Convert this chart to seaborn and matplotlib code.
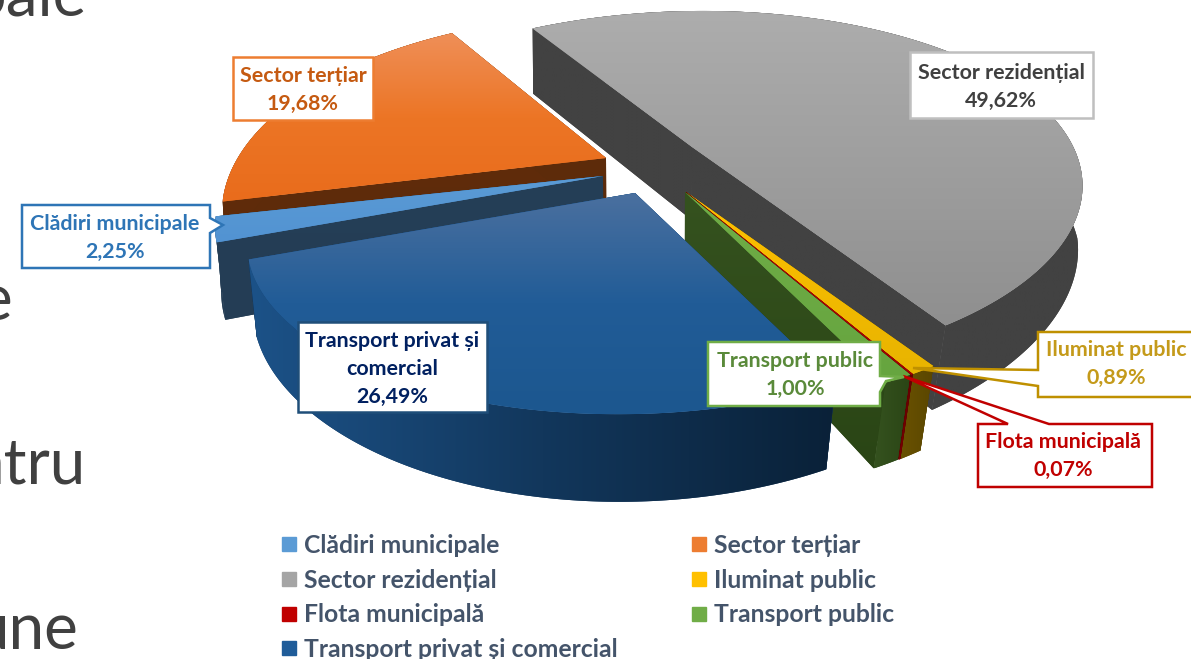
import matplotlib.pyplot as plt
import numpy as np
import seaborn as sns
from matplotlib.lines import Line2D
from matplotlib.patches import Polygon

categories = [
    "Clădiri municipale",
    "Sector terțiar",
    "Sector rezidențial",
    "Iluminat public",
    "Flota municipală",
    "Transport public",
    "Transport privat și comercial",
]
shares = [2.25, 19.68, 49.62, 0.89, 0.07, 1.00, 26.49]
base_colors = ["#5b9bd5", "#ed7d31", "#a5a5a5", "#ffc000", "#c00000", "#70ad47", "#1f5c99"]

# look of each slice: top gradient, wall gradient, apex on the page, size
top_colors = [
    ["#5b9bd5", "#5293d2"],
    ["#ef8f58", "#ec7525", "#e96c1c"],
    ["#adadad", "#8f8f8f"],
    ["#ffc000", "#e8b400"],
    ["#c00000", "#a00000"],
    ["#70ad47", "#66a53f"],
    ["#4b709f", "#215c97", "#1c578f"],
]
wall_colors = [
    ["#253f57", "#243d55"],
    ["#602c0a", "#5c2b0b"],
    ["#424242", "#424242"],
    ["#6a5200", "#5a4600"],
    ["#7a0000", "#600000"],
    ["#35521f", "#2a4515"],
    ["#1c5288", "#12375c", "#0a2138"],
]
apexes = [(603, 176), (606, 158), (692, 147), (686, 192), (686, 192), (685, 192), (635, 193)]
sizes = [1.0, 0.99, 1.025, 1.0, 1.0, 1.0, 1.0]
y_stretch = [1.0, 1.09, 1.0, 1.0, 1.0, 1.0, 1.0]

# drawn back to front
draw_order = [2, 1, 0, 3, 4, 5, 6]

START_ANGLE = -201.35
RADIUS = 372
SQUASH = 0.446
PERSPECTIVE = 0.25
SKEW = -0.035
DEPTH = 73


def project(theta, apex, size, stretch):
    u, v = np.cos(np.radians(theta)), np.sin(np.radians(theta))
    k = 1 / (1 - PERSPECTIVE * v)
    x = apex[0] + size * RADIUS * (u + SKEW * v) * k
    y = apex[1] + size * stretch * RADIUS * SQUASH * v * k
    return np.column_stack([x, y]), k, v


def drop(points, k, v):
    out = points.copy()
    out[:, 0] -= 0.055 * (out[:, 0] - 650) * np.maximum(v, 0.1)
    out[:, 1] += DEPTH * (1 + (k - 1) * 0.6)
    return out


def gradient_patch(ax, verts, colors, zorder, horizontal=False):
    verts = np.asarray(verts)
    patch = Polygon(verts, closed=True, fc=colors[len(colors) // 2], ec="none", zorder=zorder)
    ax.add_patch(patch)
    ramp = np.linspace(0, 1, 256)
    ramp = ramp.reshape(1, -1) if horizontal else ramp.reshape(-1, 1)
    image = ax.imshow(
        ramp,
        extent=(verts[:, 0].min(), verts[:, 0].max(), verts[:, 1].max(), verts[:, 1].min()),
        cmap=sns.blend_palette(colors, as_cmap=True),
        aspect="auto",
        origin="upper",
        interpolation="bilinear",
        zorder=zorder,
    )
    image.set_clip_path(patch)


def draw_slice(ax, index, theta1, theta2, zorder):
    apex, size, stretch = apexes[index], sizes[index], y_stretch[index]
    thetas = np.linspace(theta1, theta2, 160)
    arc, k, v = project(thetas, apex, size, stretch)
    arc_low = drop(arc, k, v)
    apex_pt = np.array([apex], dtype=float)
    apex_low = drop(apex_pt, np.array([1.0]), np.array([0.0]))

    walls = wall_colors[index]
    for end in (0, -1):
        wall = np.vstack([apex_pt, arc[[end]], arc_low[[end]], apex_low])
        gradient_patch(ax, wall, walls, zorder)
    outer = np.vstack([arc, arc_low[::-1]])
    gradient_patch(ax, outer, walls, zorder + 0.1, horizontal=True)
    gradient_patch(ax, np.vstack([apex_pt, arc]), top_colors[index], zorder + 0.2)


def callout(ax, outline, edge, text, color, center, fontsize=15.4):
    ax.add_patch(Polygon(outline, closed=True, fc="white", ec=edge, lw=1.8, zorder=30, joinstyle="miter"))
    ax.text(center[0], center[1], text, color=color, fontsize=fontsize, fontweight="bold",
            ha="center", va="center", linespacing=1.5, zorder=31)


sns.set_theme(style="white")
plt.rcParams["font.family"] = ["Lato", "DejaVu Sans"]

fig = plt.figure(figsize=(11.91, 6.59), dpi=100)
ax = fig.add_axes([0, 0, 1, 1])

angles = START_ANGLE + np.concatenate([[0], np.cumsum(shares)]) * 3.6
for order, index in enumerate(draw_order):
    draw_slice(ax, index, angles[index], angles[index + 1], 5 + order)

values = [f"{s:.2f}".replace(".", ",") + "%" for s in shares]

callout(ax, [(22, 205), (210, 205), (210, 218), (223, 225), (210, 233), (210, 268), (22, 268)],
        "#2e75b6", f"{categories[0]}\n{values[0]}", "#2e75b6", (115, 238))
callout(ax, [(233, 57), (373, 57), (373, 120), (233, 120)],
        "#ed7d31", f"{categories[1]}\n{values[1]}", "#c55a11", (303, 90))
callout(ax, [(910, 52), (1093, 52), (1093, 118), (910, 118)],
        "#bfbfbf", f"{categories[2]}\n{values[2]}", "#404040", (1001, 87))
callout(ax, [(1038, 332), (1200, 332), (1200, 397), (1038, 397), (1038, 386), (913, 368), (1038, 370)],
        "#bf9000", f"{categories[3]}\n{values[3]}", "#c49a1a", (1116, 364))
callout(ax, [(978, 424), (1008, 424), (903, 376), (1049, 424), (1152, 424), (1152, 487), (978, 487)],
        "#c00000", f"{categories[4]}\n{values[4]}", "#c00000", (1063, 456))
callout(ax, [(708, 342), (880, 342), (880, 376), (904, 377), (886, 381), (880, 392), (880, 406), (708, 406)],
        "#70ad47", f"{categories[5]}\n{values[5]}", "#5a8a3a", (795, 375))
callout(ax, [(298, 322), (487, 322), (487, 412), (298, 412)],
        "#1f4e79", f"Transport privat și\ncomercial\n{values[6]}", "#002060", (392, 369))

# slide text left of the chart, cut by the frame
for word, x, y in [("pale", 87, 16), ("e", 12, 320), ("ntru", 86, 483), ("une", 79, 650)]:
    ax.text(x, y, word, color="#404040", fontsize=46, ha="right", va="baseline", zorder=1)

handles = [
    Line2D([], [], ls="none", marker="s", ms=10, color=c, label=name)
    for name, c in zip(categories, base_colors)
]
legend_order = [0, 2, 4, 6, 1, 3, 5]
ax.legend(
    [handles[i] for i in legend_order],
    [categories[i] for i in legend_order],
    ncol=2,
    frameon=False,
    loc="upper left",
    bbox_to_anchor=(282, 534),
    bbox_transform=ax.transData,
    borderpad=0,
    borderaxespad=0,
    handlelength=0.6,
    handletextpad=0.3,
    columnspacing=3.0,
    labelspacing=0.47,
    prop={"size": 17.8, "weight": "bold"},
    labelcolor="#44546a",
)

ax.set_xlim(0, 1191)
ax.set_ylim(659, 0)
ax.axis("off")
fig.savefig("out.png", dpi=100)
plt.close(fig)
